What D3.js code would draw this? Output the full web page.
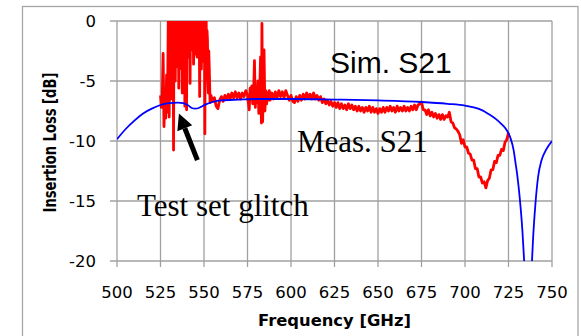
<!DOCTYPE html>
<html><head><meta charset="utf-8">
<script src="https://cdn.jsdelivr.net/npm/d3@7"></script>
<style>html,body{margin:0;padding:0;background:#fff;}svg{display:block;}</style>
</head><body>
<script>
// ---------- data ----------
const xTicks = [500,525,550,575,600,625,650,675,700,725,750];
const yTicks = [0,-5,-10,-15,-20];
const xTitle = "Frequency [GHz]";
const yTitle = "Insertion Loss [dB]";

// Simulated S21 (blue) [GHz, dB]
const simS21 = [
 [500,-9.85],[505,-9.0],[510,-8.3],[515,-7.7],[520,-7.3],[525,-7.0],[530,-6.85],[535,-6.8],
 [538,-6.85],[541,-7.05],[543,-7.25],[545,-7.3],[547,-7.25],[549,-7.1],[551,-6.95],[555,-6.75],
 [560,-6.62],[570,-6.55],[580,-6.5],[600,-6.5],[625,-6.55],[650,-6.62],[675,-6.75],[690,-6.9],
 [700,-7.05],[705,-7.2],[710,-7.45],[714,-7.8],[718,-8.2],[721,-8.6],[724,-9.1],[726,-9.7],
 [728,-10.8],[729,-11.8],[730,-12.8],[731.5,-14.8],[733,-17.5],[734,-20],[735,-23],[736,-28],
 [737,-28],[738,-22],[739,-18.5],[740.5,-15.2],[742,-13],[744,-11.6],[746,-10.9],[748,-10.4],[750,-10.0]
];

// Measured S21 (red), test-set glitch region [GHz, dB]
const measGlitch = [
 [525.0,-6.2],[525.5,-7.2],[526.0,-6.4],[526.5,-2.7],[527.0,-8.8],[527.5,-6.0],[528.0,-8.1],[528.5,-4.5],
 [529.0,-7.6],[529.5,0.5],[529.75,-3.5],[530,-8.0],[530.25,0.5],[530.5,-2.5],[530.75,0.5],[531,-6.5],
 [531.25,0.5],[531.5,-3.0],[531.75,0.5],[532,-4.2],[532.25,0.5],[532.5,-10.75],[532.75,0.5],[533,-2.8],
 [533.25,0.5],[533.5,-5.0],[533.75,0.5],[534,-2.2],[534.25,0.5],[534.5,-3.8],[534.75,0.5],[535,-2.5],
 [535.25,0.5],[535.5,-5.6],[535.75,0.5],[536,-1.9],[536.25,0.5],[536.5,-3.2],[536.75,0.5],[537,-4.0],
 [537.25,0.5],[537.5,-6.0],[537.75,0.5],[538,-2.6],[538.25,0.5],[538.5,-4.4],[538.75,0.5],[539,-7.1],
 [539.25,0.5],[539.5,-3.0],[539.75,0.5],[540,-7.4],[540.25,0.5],[540.5,-2.3],[540.75,0.5],[541,-3.0],
 [541.25,0.5],[541.5,-1.5],[541.75,0.5],[542,-5.2],[542.25,0.5],[542.5,-2.0],[542.75,0.5],[543,-2.4],
 [543.25,0.5],[543.5,-1.4],[543.75,0.5],[544,-3.6],[544.25,0.5],[544.5,-1.2],[544.75,0.5],[545,-1.8],
 [545.25,0.5],[545.5,-2.8],[545.75,0.5],[546,-3.0],[546.25,0.5],[546.5,-1.5],[546.75,0.5],[547,-2.2],
 [547.25,0.5],[547.5,-6.3],[547.75,0.5],[548,-2.0],[548.25,0.5],[548.5,-4.0],[548.75,0.5],[549,-1.7],
 [549.25,0.5],[549.5,-2.6],[549.75,0.5],[550,-3.4],[550.25,0.5],[550.5,-9.4],[550.75,0.5],[551,-2.2],
 [551.25,0.5],[551.5,-4.8],[551.75,-0.8],[552,-1.6],[552.25,-5.0],[552.5,-6.0],[552.75,-2.5],[553,-3.8],
 [553.5,-6.8]
];

// Measured S21 (red), rest of band [GHz, dB]
const measBand = [
 [554,-6.2],[555,-6.7],[556,-6.4],[557,-7.1],[558,-7.3],[559,-6.6],[560,-6.3],[561,-6.7],[562,-6.2],
 [563,-6.5],[564,-6.1],[565,-6.5],[566,-6.0],[567,-6.4],[568,-5.9],[569,-6.4],[570,-6.0],[571,-6.5],
 [572,-6.0],[573,-6.3],[574,-5.8],[575,-6.2],[576,-7.4],[576.5,-5.6],[577,-6.5],[577.5,-5.4],[578,-6.9],
 [578.5,-6.1],[579,-3.3],[579.5,-7.2],[580,-5.6],[580.5,-6.8],[581,-5.0],[581.5,-7.7],[582,-6.0],
 [582.5,-3.0],[583,-8.5],[583.3,-0.2],[583.7,-8.4],[584,-6.2],[584.5,-2.4],[585,-7.5],[585.5,-5.8],
 [586,-6.9],[586.5,-6.0],[587,-6.6],[587.5,-5.8],[588,-6.6],[589,-6.0],[590,-6.5],[591,-5.9],[592,-6.4],
 [593,-5.8],[594,-6.3],[595,-5.9],[596,-6.4],[597,-5.8],[598,-6.2],[599,-6.6],[600,-6.2],[601,-6.7],
 [602,-6.8],[603,-6.3],[604,-6.7],[605,-6.2],[606,-6.6],[607,-6.1],[608,-6.5],[609,-6.0],[610,-6.4],
 [611,-6.1],[612,-6.5],[613,-6.0],[614,-6.5],[615,-6.2],[616,-6.6],[617,-6.3],[618,-6.8],[619,-6.5],
 [620,-6.9],[621,-6.6],[622,-7.0],[623,-6.7],[624,-7.1],[625,-6.8],[626,-7.2],[627,-6.8],[628,-7.3],
 [629,-6.9],[630,-7.3],[631,-7.0],[632,-7.4],[633,-6.9],[634,-7.3],[635,-7.0],[636,-7.4],[637,-7.1],
 [638,-7.5],[639,-7.1],[640,-7.5],[641,-7.2],[642,-7.6],[643,-7.2],[644,-7.5],[645,-7.1],[646,-7.6],
 [647,-7.2],[648,-7.6],[649,-7.3],[650,-7.7],[651,-7.3],[652,-7.6],[653,-7.2],[654,-7.6],[655,-7.2],
 [656,-7.5],[657,-7.1],[658,-7.5],[659,-7.2],[660,-7.6],[661,-7.1],[662,-7.5],[663,-7.2],[664,-7.5],
 [665,-7.1],[666,-7.5],[667,-7.2],[668,-7.5],[669,-7.1],[670,-7.4],[671,-7.0],[672,-7.4],[673,-7.0],
 [674,-6.9],[675,-6.75],[676,-7.4],[677,-7.4],[678,-7.8],[679,-7.4],[680,-7.9],[681,-7.6],[682,-8.0],
 [683,-7.7],[684,-8.1],[685,-7.8],[686,-8.2],[687,-7.8],[688,-8.2],[689,-7.9],[690,-8.0],[691,-7.6],
 [692,-8.4],[693,-8.5],[694,-8.9],[695,-9.0],[696,-9.2],[697,-9.5],[698,-10.2],[699,-9.9],[700,-10.5],
 [701,-10.5],[702,-11.0],[703,-11.1],[704,-11.6],[705,-11.6],[706,-12.3],[707,-12.3],[708,-13.0],
 [709,-13.0],[710,-13.5],[711,-13.4],[712,-13.9],[713,-13.3],[714,-13.1],[715,-12.4],[716,-12.4],
 [717,-11.7],[718,-11.8],[719,-11.2],[720,-11.2],[721,-10.7],[722,-10.8],[723,-10.1],[724,-9.9],[725,-9.3]
];

// Annotations in data coordinates [GHz, dB]
const annoLabels = [
 {text:"Sim. S21", at:[622.4,-4.35], font:"'Liberation Sans', Arial, sans-serif", size:30},
 {text:"Meas. S21", at:[603.4,-10.9], font:"'Liberation Serif', 'Times New Roman', serif", size:31},
 {text:"Test set glitch", at:[511.5,-16.25], font:"'Liberation Serif', 'Times New Roman', serif", size:31}
];
const arrowFrom = [546.2,-11.6];
const arrowTo = [535.6,-7.7];

// ---------- layout ----------
const W = 581, H = 336;
const plot = {left:117, right:552, top:21, bottom:261};
const svg = d3.select("body").append("svg").attr("width",W).attr("height",H);

svg.append("rect").attr("x",22.5).attr("y",6.5).attr("width",555.5).attr("height",340)
  .attr("fill","#fff").attr("stroke","#a6a6a6").attr("stroke-width",1.3);

const x = d3.scaleLinear().domain([500,750]).range([plot.left,plot.right]);
const y = d3.scaleLinear().domain([-20,0]).range([plot.bottom,plot.top]);

const gridColor = "#a0a0a0";
svg.append("g").attr("transform",`translate(0,${plot.bottom})`).call(g=>{
  g.selectAll("line.v").data(xTicks).enter().append("line")
   .attr("x1",d=>x(d)).attr("x2",d=>x(d)).attr("y1",plot.top-plot.bottom).attr("y2",6)
   .attr("stroke",gridColor).attr("stroke-width",1.3);
  g.selectAll("text").data(xTicks).enter().append("text")
   .attr("x",d=>x(d)).attr("y",37).attr("text-anchor","middle")
   .attr("font-family","'DejaVu Sans', Verdana, sans-serif").attr("font-size",16.5).attr("fill","#000")
   .text(d=>d);
});
svg.append("g").call(g=>{
  g.selectAll("line.h").data(yTicks).enter().append("line")
   .attr("x1",plot.left-7).attr("x2",plot.right).attr("y1",d=>y(d)).attr("y2",d=>y(d))
   .attr("stroke",gridColor).attr("stroke-width",1.3);
  g.selectAll("text").data(yTicks).enter().append("text")
   .attr("x",96).attr("y",d=>y(d)).attr("dy","0.36em").attr("text-anchor","end")
   .attr("font-family","'DejaVu Sans', Verdana, sans-serif").attr("font-size",16.5).attr("fill","#000")
   .text(d=>d);
});

// titles
svg.append("text").attr("x",334.5).attr("y",326).attr("text-anchor","middle")
  .attr("font-family","'DejaVu Sans', Verdana, sans-serif").attr("font-weight","bold").attr("font-size",16)
  .attr("textLength",153).attr("lengthAdjust","spacingAndGlyphs").text(xTitle);
svg.append("text").attr("transform","translate(55.5,142.5) rotate(-90)").attr("text-anchor","middle")
  .attr("font-family","'DejaVu Sans', Verdana, sans-serif").attr("font-weight","bold").attr("font-size",17.5)
  .attr("textLength",140).attr("lengthAdjust","spacingAndGlyphs").text(yTitle);

// clip
svg.append("clipPath").attr("id","pc").append("rect")
  .attr("x",plot.left).attr("y",plot.top).attr("width",plot.right-plot.left).attr("height",plot.bottom-plot.top);

const line = d3.line().x(d=>x(d[0])).y(d=>y(d[1]));
const dataG = svg.append("g").attr("clip-path","url(#pc)");
dataG.append("path").datum(measGlitch.concat(measBand)).attr("d",line)
  .attr("fill","none").attr("stroke","#ff0000").attr("stroke-width",2.8).attr("stroke-linejoin","round");
dataG.append("path").datum(simS21).attr("d",d3.line().curve(d3.curveMonotoneX).x(d=>x(d[0])).y(d=>y(d[1])))
  .attr("fill","none").attr("stroke","#0000ff").attr("stroke-width",1.8);

// annotations
svg.selectAll("text.anno").data(annoLabels).enter().append("text").attr("class","anno")
  .attr("x",d=>x(d.at[0])).attr("y",d=>y(d.at[1])).attr("font-family",d=>d.font)
  .attr("font-size",d=>d.size).attr("fill","#000").text(d=>d.text);

// arrow
const ax1=x(arrowFrom[0]), ay1=y(arrowFrom[1]), ax2=x(arrowTo[0]), ay2=y(arrowTo[1]);
const ang = Math.atan2(ay2-ay1, ax2-ax1);
const headLen=16, headW=8;
const bx = ax2 - headLen*Math.cos(ang), by = ay2 - headLen*Math.sin(ang);
svg.append("line").attr("x1",ax1).attr("y1",ay1).attr("x2",bx).attr("y2",by)
  .attr("stroke","#000").attr("stroke-width",5);
svg.append("path").attr("d",d3.line()([
  [ax2,ay2],
  [bx + headW*Math.sin(ang), by - headW*Math.cos(ang)],
  [bx - headW*Math.sin(ang), by + headW*Math.cos(ang)]
])+"Z").attr("fill","#000");
</script>
</body></html>
